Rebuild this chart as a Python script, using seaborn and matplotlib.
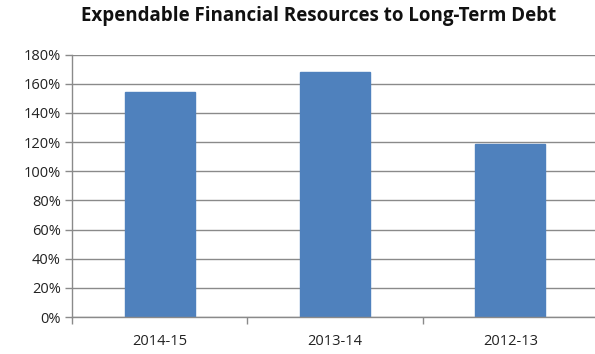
import matplotlib
matplotlib.use("Agg")
import matplotlib.pyplot as plt
import seaborn as sns
import pandas as pd
from matplotlib.ticker import FixedLocator, PercentFormatter

years = ["2014-15", "2013-14", "2012-13"]
ratios = [154.3, 167.9, 118.7]

df = pd.DataFrame({"year": years, "ratio": ratios})

sns.set_theme(style="white")
plt.rcParams["font.family"] = ["Open Sans", "DejaVu Sans"]

fig = plt.figure(figsize=(5.95, 3.54), dpi=100)
ax = fig.add_axes([0.121, 0.1045, 0.884, 0.741])

sns.barplot(data=df, x="year", y="ratio", color="#4F81BD", saturation=1,
            width=0.4, ax=ax, edgecolor="#4F81BD")

ax.set_ylim(0, 180)
ax.set_xlim(-0.5, 2.5)
ax.set_yticks(range(0, 181, 20))
ax.yaxis.set_major_formatter(PercentFormatter(decimals=0))
ax.grid(axis="y", color="#8a8a8a", linewidth=1.0)
ax.set_axisbelow(True)

for side in ("top", "right"):
    ax.spines[side].set_visible(False)
for side in ("left", "bottom"):
    ax.spines[side].set_color("#8a8a8a")
    ax.spines[side].set_linewidth(1.0)

ax.xaxis.set_minor_locator(FixedLocator([-0.5, 0.5, 1.5, 2.5]))
ax.tick_params(axis="x", which="major", length=0, pad=12, labelsize=10.5,
               colors="#222222")
ax.tick_params(axis="x", which="minor", length=5, color="#8a8a8a",
               width=1.0, bottom=True)
ax.tick_params(axis="y", which="major", length=5, color="#8a8a8a", width=1.0,
               left=True, labelsize=10.5, colors="#222222", pad=3)
ax.set_xlabel("")
ax.set_ylabel("")

fig.text(0.535, 0.955, "Expendable Financial Resources to Long-Term Debt",
         ha="center", va="center", fontsize=13.5, fontweight="bold",
         color="#111111")

fig.savefig("out.png", dpi=100)
